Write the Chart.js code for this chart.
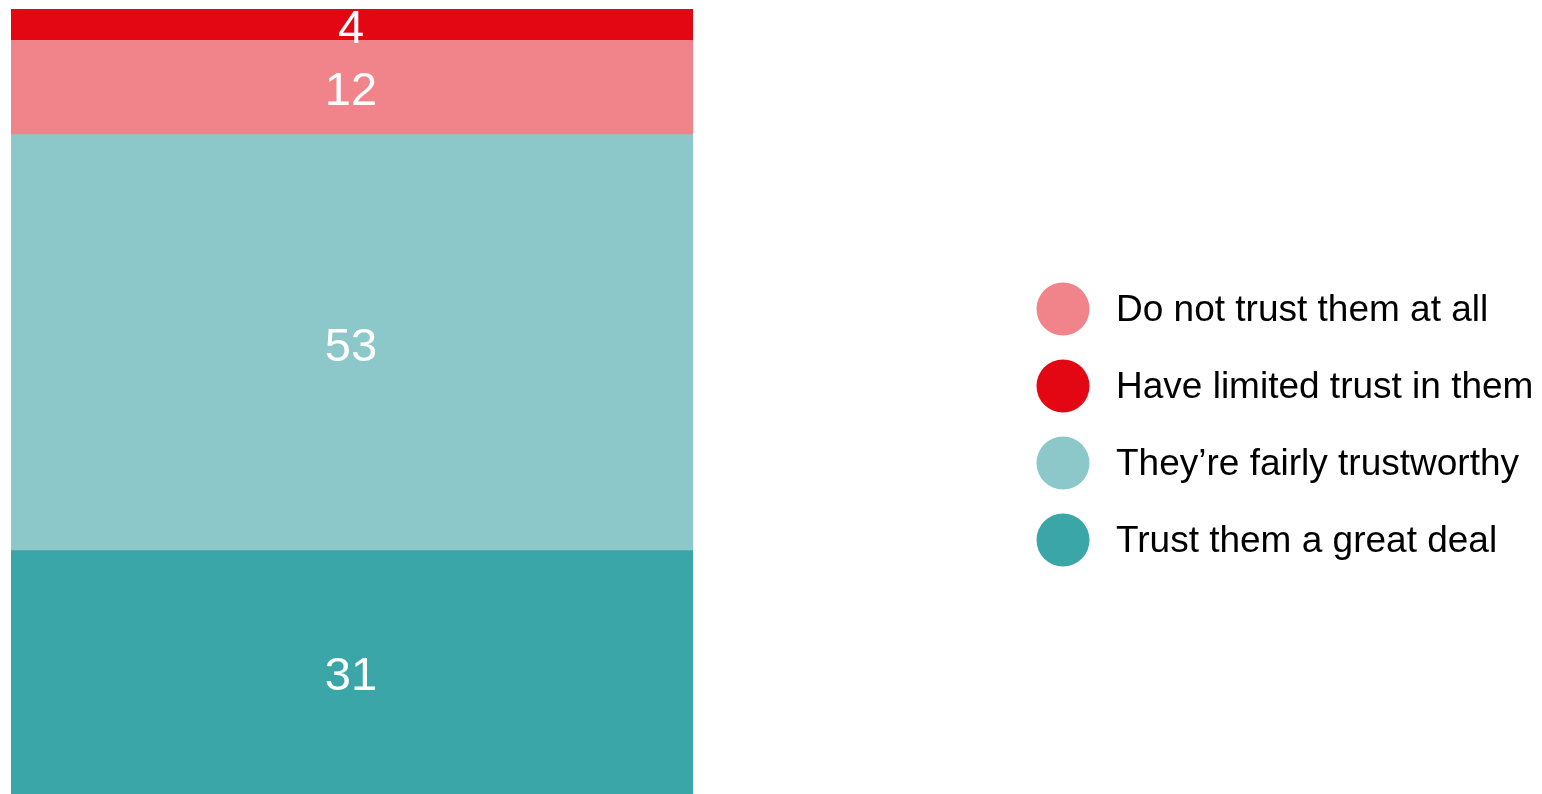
<!DOCTYPE html>
<html>
<head>
<meta charset="utf-8">
<script src="https://cdn.jsdelivr.net/npm/chart.js@4/dist/chart.umd.min.js"></script>
<style>
  html, body { margin: 0; padding: 0; background: #fff; }
  #wrap { width: 1542px; height: 794px; position: relative; }
</style>
</head>
<body>
<div id="wrap"><canvas id="trustChart" width="1542" height="794"></canvas></div>
<script>
/* ── Data ── */
const category   = ['Trust'];
const seriesName = ['Trust them a great deal', 'They\u2019re fairly trustworthy', 'Do not trust them at all', 'Have limited trust in them'];
const seriesVal  = [31, 53, 12, 4];
const seriesCol  = ['#3BA6A7', '#8CC8C9', '#F1848A', '#E30613'];
const legendOrder = [2, 3, 1, 0];   // order of entries in the key

const FONT = '"Liberation Sans", Arial, sans-serif';

/* ── Value labels, centred in each segment ── */
const segLabels = {
  id: 'segLabels',
  afterDatasetsDraw(chart) {
    const ctx = chart.ctx;
    ctx.save();
    ctx.fillStyle = '#fff';
    ctx.font = '47px ' + FONT;
    ctx.textAlign = 'center';
    ctx.textBaseline = 'middle';
    chart.data.datasets.forEach((ds, i) => {
      chart.getDatasetMeta(i).data.forEach((bar, j) => {
        const mid = (bar.y + bar.base) / 2;
        ctx.fillText(String(ds.data[j]), bar.x - 1, mid + 5);
      });
    });
    ctx.restore();
  }
};

/* ── Key on the right ── */
const sideKey = {
  id: 'sideKey',
  afterDraw(chart) {
    const ctx = chart.ctx;
    const ds = chart.data.datasets;
    ctx.save();
    ctx.font = '37px ' + FONT;
    ctx.textBaseline = 'middle';
    ctx.textAlign = 'left';
    legendOrder.forEach((k, row) => {
      const y = 309 + row * 77;
      ctx.fillStyle = ds[k].backgroundColor;
      ctx.beginPath();
      ctx.arc(1063, y, 26.5, 0, Math.PI * 2);
      ctx.fill();
      ctx.fillStyle = '#000';
      ctx.fillText(ds[k].label, 1116, y + 2);
    });
    ctx.restore();
  }
};

new Chart(document.getElementById('trustChart'), {
  type: 'bar',
  data: {
    labels: category,
    datasets: seriesName.map((name, i) => ({
      label: name,
      data: [seriesVal[i]],
      backgroundColor: seriesCol[i],
      borderWidth: 0,
      barPercentage: 1,
      categoryPercentage: 1
    }))
  },
  options: {
    responsive: false,
    animation: false,
    devicePixelRatio: 1,
    layout: { padding: { left: 11, top: 9, right: 849, bottom: 0 } },
    plugins: { legend: { display: false }, tooltip: { enabled: false } },
    scales: {
      x: { stacked: true, display: false },
      y: { stacked: true, display: false, min: 0, max: 100 }
    }
  },
  plugins: [segLabels, sideKey]
});
</script>
</body>
</html>
